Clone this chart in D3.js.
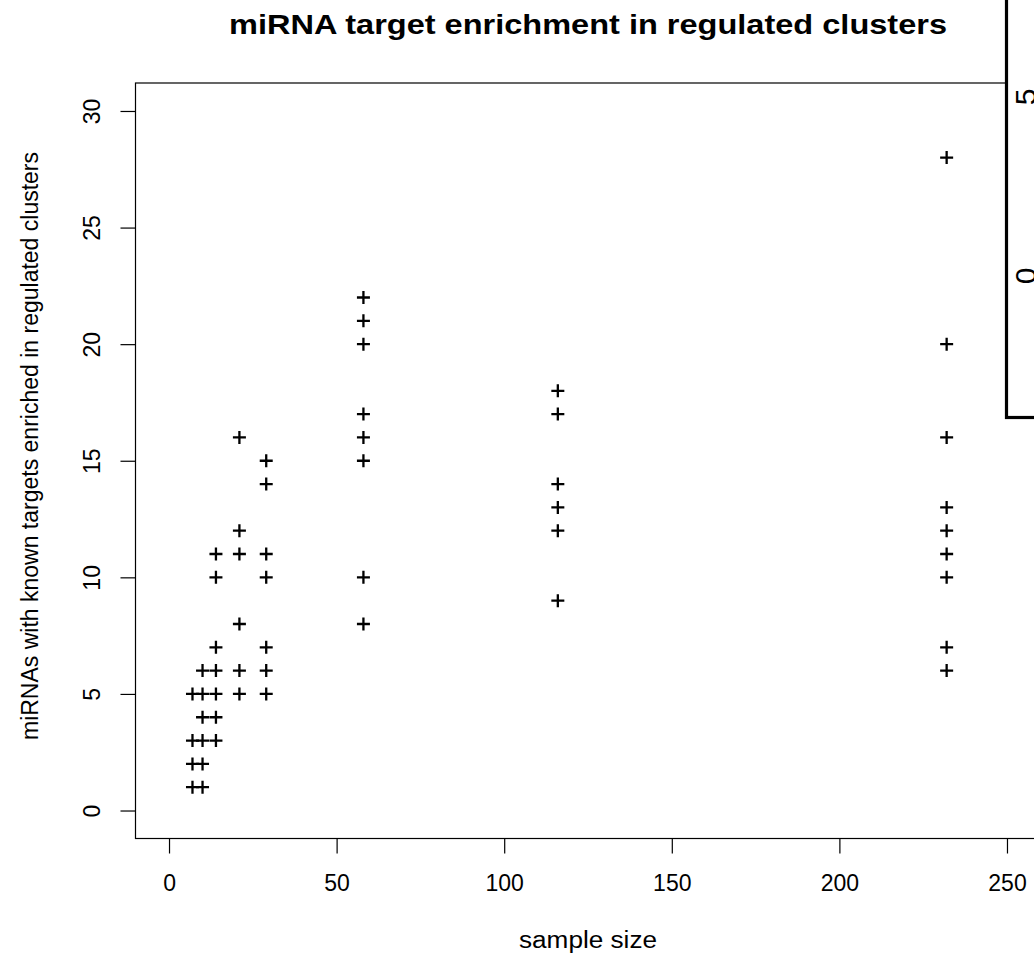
<!DOCTYPE html>
<html>
<head>
<meta charset="utf-8">
<script src="https://cdn.jsdelivr.net/npm/d3@7"></script>
<style>
  html, body { margin: 0; padding: 0; background: #fff; overflow: hidden; }
  svg { display: block; }
  text { font-family: "Liberation Sans", Arial, Helvetica, sans-serif; fill: #000; }
</style>
</head>
<body>
<script>
// Sample sizes (x) and, for each, the number of miRNAs whose known targets
// were enriched in regulated clusters (y).
const sampleSizes = [7, 10, 14, 21, 29, 58, 116, 232];
const enriched7   = [1, 2, 3, 5];
const enriched10  = [1, 2, 3, 4, 5, 6];
const enriched14  = [3, 4, 5, 6, 7, 10, 11];
const enriched21  = [5, 6, 8, 11, 12, 16];
const enriched29  = [5, 6, 7, 10, 11, 14, 15];
const enriched58  = [8, 10, 15, 16, 17, 20, 21, 22];
const enriched116 = [9, 12, 13, 14, 17, 18];
const enriched232 = [6, 7, 10, 11, 12, 13, 16, 20, 28];
const enrichedBySize = [enriched7, enriched10, enriched14, enriched21,
                        enriched29, enriched58, enriched116, enriched232];

const xTicks = [0, 50, 100, 150, 200, 250];
const yTicks = [0, 5, 10, 15, 20, 25, 30];

const titleText = "miRNA target enrichment in regulated clusters";
const xLabel = "sample size";
const yLabel = "miRNAs with known targets enriched in regulated clusters";
const insetLabels = ["5", "0"];

const points = [];
sampleSizes.forEach((s, i) => enrichedBySize[i].forEach(v => points.push({ x: s, y: v })));

const W = 1034, H = 959;
const margin = { left: 135.5, top: 83, right: 1040.5, bottom: 838.5 };

// axis limits padded by 4% on each side, as R does
const xScale = d3.scaleLinear().domain([-10, 260]).range([margin.left, margin.right]);
const yScale = d3.scaleLinear().domain([-1.2, 31.2]).range([margin.bottom, margin.top]);

const svg = d3.select("body").append("svg").attr("width", W).attr("height", H);

// plot frame
svg.append("rect")
  .attr("x", margin.left).attr("y", margin.top)
  .attr("width", margin.right - margin.left).attr("height", margin.bottom - margin.top)
  .attr("fill", "none").attr("stroke", "#000").attr("stroke-width", 1.2);

// x axis
const xAxis = d3.axisBottom(xScale).tickValues(xTicks).tickSize(15).tickPadding(21).tickFormat(d3.format("d"));
const gx = svg.append("g").attr("transform", `translate(0,${margin.bottom})`).call(xAxis);
gx.select(".domain").remove();
gx.selectAll("line").attr("stroke", "#000").attr("stroke-width", 1.2);
gx.selectAll("text").attr("font-size", 23).attr("font-family", "Liberation Sans, Arial, sans-serif");

// y axis, labels rotated parallel to the axis
const yAxis = d3.axisLeft(yScale).tickValues(yTicks).tickSize(15).tickFormat(d3.format("d"));
const gy = svg.append("g").attr("transform", `translate(${margin.left},0)`).call(yAxis);
gy.select(".domain").remove();
gy.selectAll("line").attr("stroke", "#000").attr("stroke-width", 1.2);
gy.selectAll(".tick text")
  .attr("font-size", 23).attr("font-family", "Liberation Sans, Arial, sans-serif")
  .attr("x", 0).attr("y", 0).attr("dx", 0).attr("dy", "0.72em")
  .attr("text-anchor", "middle")
  .attr("transform", "translate(-52,0) rotate(-90)");

// plus markers
const arm = 6.5;
svg.append("g").selectAll("path").data(points).join("path")
  .attr("d", d => {
    const cx = xScale(d.x), cy = yScale(d.y);
    return `M${cx - arm},${cy}H${cx + arm}M${cx},${cy - arm}V${cy + arm}`;
  })
  .attr("stroke", "#000").attr("stroke-width", 2.3).attr("fill", "none");

// title
svg.append("text").attr("x", (margin.left + margin.right) / 2).attr("y", 34)
  .attr("text-anchor", "middle").attr("font-size", 28).attr("font-weight", "bold")
  .attr("textLength", 718).attr("lengthAdjust", "spacingAndGlyphs")
  .text(titleText);

// axis titles
svg.append("text").attr("x", (margin.left + margin.right) / 2).attr("y", 948)
  .attr("text-anchor", "middle").attr("font-size", 23)
  .attr("textLength", 138).attr("lengthAdjust", "spacingAndGlyphs")
  .text(xLabel);
svg.append("text").attr("transform", "translate(38,446) rotate(-90)")
  .attr("text-anchor", "middle").attr("font-size", 23).text(yLabel);

// neighbouring panel overlapping the top-right corner
const inset = svg.append("g");
inset.append("rect").attr("x", 1006.5).attr("y", -10).attr("width", 60).attr("height", 427.5)
  .attr("fill", "#fff").attr("stroke", "#000").attr("stroke-width", 3.2);
const insetY = [97, 276];
inset.selectAll("text").data(insetLabels).join("text")
  .attr("transform", (d, i) => `translate(1036,${insetY[i]}) rotate(-90)`)
  .attr("text-anchor", "middle").attr("font-size", 30).text(d => d);
</script>
</body>
</html>
